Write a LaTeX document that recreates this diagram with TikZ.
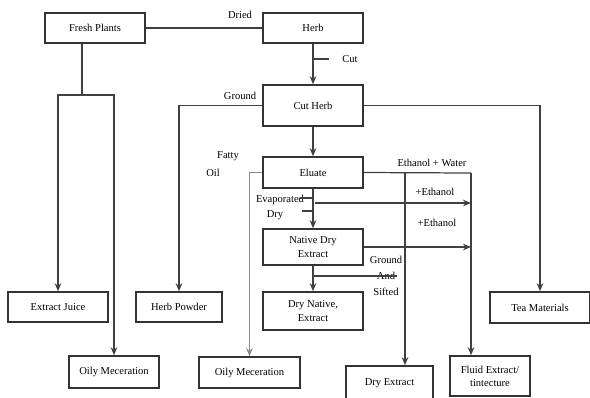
\documentclass[tikz,border=0pt]{standalone}
\usepackage{fontspec}
\setmainfont{Liberation Serif}
\usepackage{tikz}
\usetikzlibrary{calc, positioning, arrows, arrows.meta, shadows}
\tikzstyle{blk}=[draw=black!80, line width=0.9pt, fill=white, inner sep=0pt, align=center, font=\fontsize{6}{7.5}\selectfont, minimum width=2cm, minimum height=0.6cm, drop shadow={opacity=0.2, shadow xshift=0.6pt, shadow yshift=-0.6pt}]
\tikzstyle{lbl}=[inner sep=0pt, align=center, font=\fontsize{6}{7.5}\selectfont]
\tikzstyle{con}=[line width=0.7pt, draw=black!75]
\tikzset{>={Stealth[length=4.6pt, width=3.8pt]}}

\begin{document}
\begin{tikzpicture}[x=0.02cm, y=-0.02cm]
\useasboundingbox (0,0) rectangle (590,397);
% the main column
\node[blk] (fresh) at (95,28) {Fresh Plants};
\node[blk] (herb) at (313,28) {Herb};
\node[blk, minimum height=0.82cm] (cut) at (313,105.5) {Cut Herb};
\node[blk, minimum height=0.62cm] (eluate) at (313,172.5) {Eluate};
\node[blk, minimum height=0.72cm] (native) at (313,247) {Native Dry\\Extract};
\node[blk, minimum height=0.76cm] (drynative) at (313,311) {Dry Native,\\Extract};
% the products
\node[blk] (juice) at (58,307) {Extract Juice};
\node[blk, minimum width=1.72cm] (powder) at (179,307) {Herb Powder};
\node[blk, minimum height=0.62cm] (tea) at (540,307.5) {Tea Materials};
\node[blk, minimum width=1.8cm, minimum height=0.64cm] (oily1) at (114,372) {Oily Meceration};
\node[blk, minimum width=2.02cm, minimum height=0.62cm] (oily2) at (249.5,372.5) {Oily Meceration};
\node[blk, minimum width=1.74cm, minimum height=0.68cm] (dryex) at (389.5,383) {Dry Extract};
\node[blk, minimum width=1.6cm, minimum height=0.8cm] (fluid) at (490,376) {Fluid Extract/\\tintecture};
% the labels
\node[lbl] (dried) at (240,15) {Dried};
\node[lbl] (cutlbl) at (350,59) {Cut};
\node[lbl] (ground) at (240,96) {Ground};
\node[lbl] (fatty) at (228,156) {Fatty};
\node[lbl] (oil) at (213,173) {Oil};
\node[lbl] (evap) at (280,200) {Evaporated};
\node[lbl] (drylbl) at (275,215) {Dry};
\node[lbl] (water) at (432,163) {Ethanol + Water};
\node[lbl] (eth1) at (435,192) {+Ethanol};
\node[lbl] (eth2) at (437,223) {+Ethanol};
\node[lbl, font=\fontsize{6}{9}\selectfont] (sift) at (386,276) {Ground\\And\\Sifted};
% the helper points
\coordinate (fj) at (82,95);
\coordinate (wcol) at (471,173);
\coordinate (dcol) at (405,173);
\coordinate (ev) at (315,203);
\coordinate (cuttick) at (329,59);
\coordinate (evtick) at (300,198);
\coordinate (drytick) at (302,211);
\coordinate (gstick) at (397,276);
% the connectors
\draw[con] (fresh.east) -- (herb.west);
\draw[con] (fresh.south -| fj) -- (fj);
\draw[con, ->] (fj) -| (juice.north);
\draw[con, ->] (fj) -| (oily1.north);
\draw[con, ->] (herb.south) -- (cut.north);
\draw[con] (herb.south |- cuttick) -- (cuttick);
\draw[con, ->] (cut.west) -| (powder.north);
\draw[con, ->] (cut.east) -| (tea.north);
\draw[con, ->] (cut.south) -- (eluate.north);
\draw[draw=black!45, line width=0.5pt, ->] (eluate.west) -| (oily2.north);
\draw[con, ->] (eluate.south) -- (native.north);
\draw[con] (evtick) -- (evtick -| eluate.south);
\draw[con] (drytick) -- (drytick -| eluate.south);
\draw[con, ->] (ev) -- (ev -| wcol);
\draw[con, ->] (native.east) -- (native.east -| wcol);
\draw[con] (eluate.east) -- (wcol);
\draw[con, ->] (wcol) -- (wcol |- fluid.north);
\draw[con, ->] (dcol) -- (dcol |- dryex.north);
\draw[con, ->] (native.south) -- (drynative.north);
\draw[con] (gstick -| native.south) -- (gstick);
\end{tikzpicture}
\end{document}
